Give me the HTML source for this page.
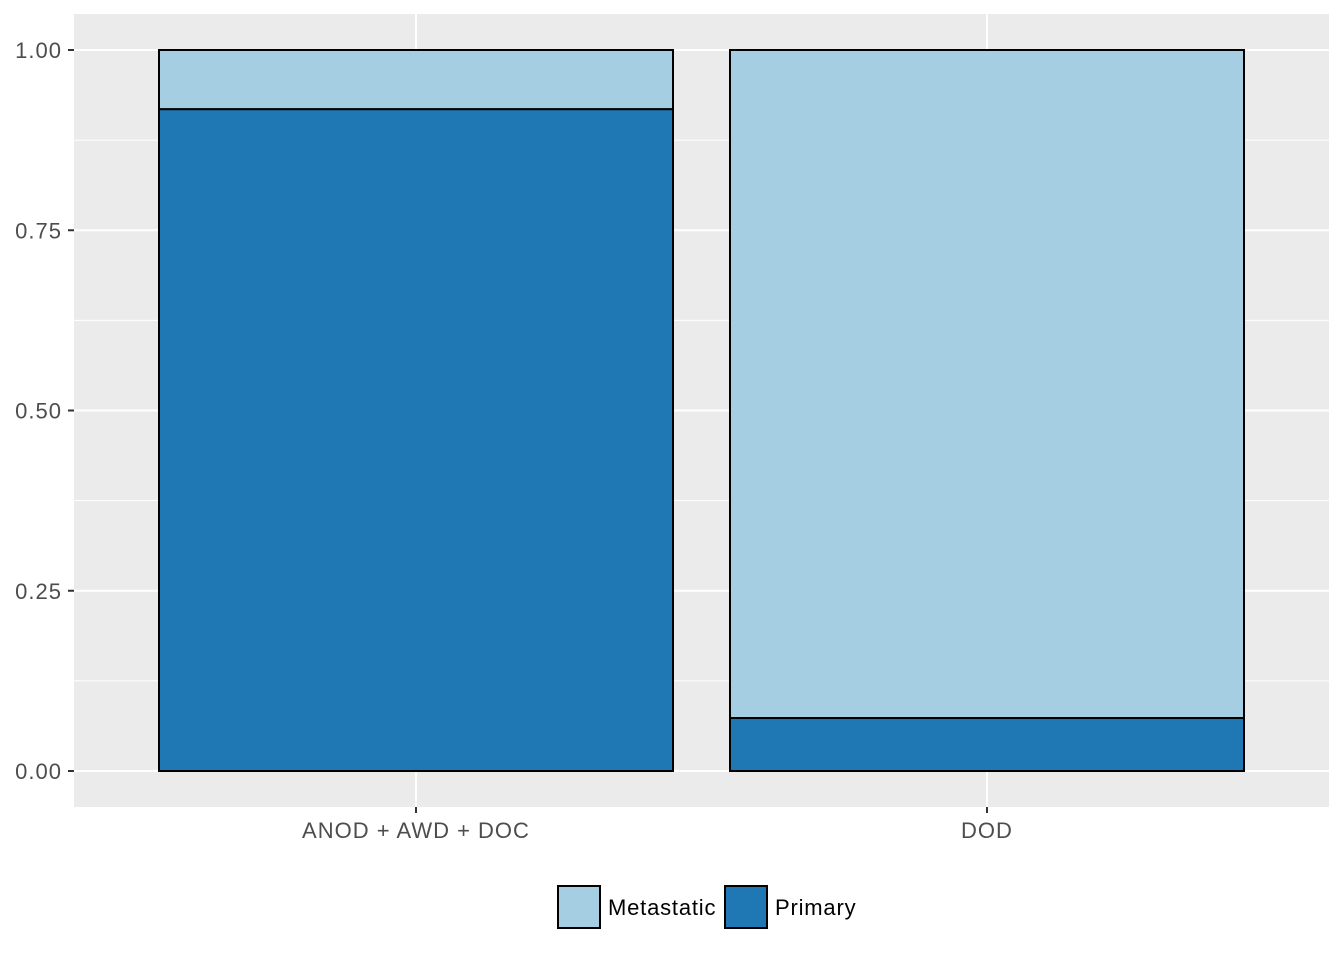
<!DOCTYPE html>
<html><head><meta charset="utf-8"><style>
body{margin:0;background:#fff;}
svg text{font-family:"Liberation Sans",sans-serif;}
</style></head><body>
<svg id="chart" width="1344" height="960" xmlns="http://www.w3.org/2000/svg">
<rect x="74" y="14" width="1255" height="793" fill="#ebebeb"/>
<g id="grid"></g><g id="bars"></g><g id="axes"></g>
<g>
<rect x="558" y="886" width="42" height="42" fill="#a6cee3" stroke="#000" stroke-width="2"/>
<text x="608" y="915" font-size="22" letter-spacing="0.8" fill="#000">Metastatic</text>
<rect x="725" y="886" width="42" height="42" fill="#1f78b4" stroke="#000" stroke-width="2"/>
<text x="775" y="915" font-size="22" letter-spacing="0.8" fill="#000">Primary</text>
</g>
</svg>
<script>
const categories=["ANOD + AWD + DOC","DOD"];
const primary=[0.918,0.0735];
const metastatic=[0.082,0.9265];
const yTicks=[0,0.25,0.5,0.75,1];
const yTickLabels=["0.00","0.25","0.50","0.75","1.00"];
const NS="http://www.w3.org/2000/svg";
const y=v=>771-v*721;
const band=571, x0=74+(1255-2*band)/2;
const xc=i=>x0+band*(i+0.5);
const bw=514;
function mk(tag,attrs,parent){const e=document.createElementNS(NS,tag);for(const k in attrs)e.setAttribute(k,attrs[k]);document.getElementById(parent).appendChild(e);return e;}
for(let i=0;i<yTicks.length-1;i++){const m=(yTicks[i]+yTicks[i+1])/2;
const l=mk('line',{x1:74,x2:1329,y1:y(m),y2:y(m),stroke:'#fff','stroke-width':1},'grid');

}
yTicks.forEach((t,i)=>{
const l=mk('line',{x1:74,x2:1329,y1:y(t),y2:y(t),stroke:'#fff','stroke-width':2},'grid');


const tk=mk('line',{x1:68,x2:74,y1:y(t),y2:y(t),stroke:'#333','stroke-width':2},'axes');


const tx=mk('text',{x:62,y:y(t)+8,'text-anchor':'end','font-size':22,'letter-spacing':1,fill:'#4d4d4d'},'axes');
tx.textContent=yTickLabels[i];

});
categories.forEach((c,i)=>{
const l=mk('line',{x1:xc(i),x2:xc(i),y1:14,y2:807,stroke:'#fff','stroke-width':2},'grid');


const tk=mk('line',{x1:xc(i),x2:xc(i),y1:807,y2:813,stroke:'#333','stroke-width':2},'axes');


const tx=mk('text',{x:xc(i),y:838,'text-anchor':'middle','font-size':22,'letter-spacing':1,fill:'#4d4d4d'},'axes');
tx.textContent=c;


const p=mk('rect',{x:xc(i)-bw/2,y:y(primary[i]),width:bw,height:y(0)-y(primary[i]),fill:'#1f78b4',stroke:'#000','stroke-width':2},'bars');


const m=mk('rect',{x:xc(i)-bw/2,y:y(primary[i]+metastatic[i]),width:bw,height:y(primary[i])-y(primary[i]+metastatic[i]),fill:'#a6cee3',stroke:'#000','stroke-width':2},'bars');


});
</script>
</body></html>
